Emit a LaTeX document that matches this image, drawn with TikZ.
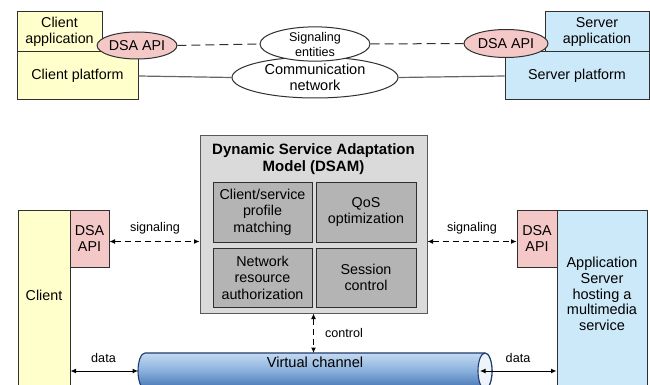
\documentclass[tikz,border=0pt]{standalone}
\usepackage{fontspec}
\setmainfont{Liberation Sans}
\usetikzlibrary{arrows.meta,shapes.geometric}
\definecolor{cyel}{HTML}{FFFFCC}
\definecolor{cpink}{HTML}{F5C8C8}
\definecolor{cblue}{HTML}{CCE9FA}
\definecolor{cgrey}{HTML}{DADADA}
\definecolor{cdgrey}{HTML}{B4B4B4}
\definecolor{cline}{HTML}{303030}
\definecolor{tubetop}{HTML}{C4DAF0}
\definecolor{tubemid}{HTML}{88B0DC}
\definecolor{tubebot}{HTML}{4473B4}
\definecolor{tubeedge}{HTML}{1F3A6E}
\newcommand{\bigtxt}{\fontsize{14.3}{15.5}\selectfont}
\newcommand{\midtxt}{\fontsize{14.3}{16.5}\selectfont}
\newcommand{\smalltxt}{\fontsize{12.6}{15}\selectfont}
\begin{document}
\begin{tikzpicture}[x=1pt,y=-1pt,
  box/.style={draw=cline, line width=1pt, align=center, inner sep=0pt, font=\bigtxt},
  oval/.style={draw=cline, line width=1pt, ellipse, align=center, inner sep=0pt},
  lbl/.style={inner sep=0pt, font=\smalltxt},
  sigarrow/.style={dashed, dash pattern=on 6pt off 4pt, line width=1pt, {Latex[length=5.5pt,width=5pt]}-{Latex[length=5.5pt,width=5pt]}},
  dataarrow/.style={line width=1pt, {Latex[length=5.5pt,width=5pt]}-{Latex[length=5.5pt,width=5pt]}}
]
\useasboundingbox (0,0) rectangle (650,385);
\clip (0,0) rectangle (650,385);
\fill[white] (0,0) rectangle (650,385);

% ---------- top part ----------
\node[box, fill=cyel, minimum width=121pt, minimum height=48pt] (cp) at (77.5,76) {Client platform};
\node[box, fill=cyel, minimum width=85pt, minimum height=40pt] (ca) at (59.5,32) {Client\\application};
\node[box, fill=cblue, minimum width=144pt, minimum height=48pt] (sp) at (577,76) {Server platform};
\node[box, fill=cblue, minimum width=104pt, minimum height=40pt] (sa) at (597,32) {Server\\application};

\node[oval, fill=white, minimum width=166pt, minimum height=41pt, font=\fontsize{14.5}{16.5}\selectfont] (comm) at (315,77.5) {Communication\\network};
\node[oval, fill=white, minimum width=110pt, minimum height=32pt, font=\smalltxt] (sig) at (315,44) {Signaling\\entities};
\node[oval, fill=cpink, minimum width=76pt, minimum height=27pt, font=\bigtxt] (dsa1) at (137,45.5) {DSA API};
\node[oval, fill=cpink, minimum width=84pt, minimum height=28pt, font=\bigtxt] (dsa2) at (506,43.5) {DSA API};

\draw[cline, line width=1pt, dash pattern=on 9pt off 5pt] (dsa1.east) -- (sig.west);
\draw[cline, line width=1pt, dash pattern=on 9pt off 5pt] (sig.east) -- (dsa2.west);
\draw[black!60, line width=1.2pt] (cp.east) -- (comm.west);
\draw[black!60, line width=1.2pt] (comm.east) -- (sp.west);

% ---------- bottom part ----------
\node[box, fill=cgrey, draw=black!65, minimum width=227pt, minimum height=178pt] (dsam) at (313.5,224) {};
\node[inner sep=0pt, align=center, font=\fontsize{15}{17}\selectfont\bfseries] (title) at (313.5,159) {Dynamic Service Adaptation\\Model (DSAM)};
\node[box, fill=cdgrey, font=\midtxt, minimum width=99pt, minimum height=60pt] (csp) at (262.5,212) {Client/service\\profile\\matching};
\node[box, fill=cdgrey, font=\midtxt, minimum width=100pt, minimum height=60pt] (qos) at (366,212) {QoS\\optimization};
\node[box, fill=cdgrey, font=\midtxt, minimum width=99pt, minimum height=59pt] (nra) at (262.5,277.5) {Network\\resource\\authorization};
\node[box, fill=cdgrey, font=\midtxt, minimum width=100pt, minimum height=59pt] (sc) at (366,277.5) {Session\\control};

\node[box, fill=cyel, minimum width=52pt, minimum height=190pt] (client) at (44,305) {};
\node[inner sep=0pt, font=\bigtxt] (clienttxt) at (44,295) {Client};
\node[box, fill=cpink, font=\midtxt, minimum width=39pt, minimum height=57pt] (api1) at (89.5,238.5) {DSA\\API};

\node[box, fill=cblue, minimum width=90pt, minimum height=190pt] (app) at (602,305) {};
\node[inner sep=0pt, align=center, font=\fontsize{14.5}{15.8}\selectfont] (apptxt) at (602,294) {Application\\Server\\hosting a\\multimedia\\service};
\node[box, fill=cpink, font=\midtxt, minimum width=40pt, minimum height=57pt] (api2) at (537,238.5) {DSA\\API};

% virtual channel (cylinder)
\path[top color=tubetop, bottom color=tubebot, middle color=tubemid, draw=tubeedge, line width=1.1pt]
  (145,353) -- (485,353) arc[start angle=-90, end angle=90, x radius=7, y radius=18]
  -- (145,389) arc[start angle=90, end angle=270, x radius=7, y radius=18] -- cycle;
\path[fill=white!70!tubetop, draw=tubeedge, line width=1.1pt] (485,371) ellipse[x radius=7, y radius=18];
\node[inner sep=0pt, font=\fontsize{14.6}{16}\selectfont] (vc) at (315,362) {Virtual channel};
\coordinate (vtop) at (313.5,353);
\coordinate (vleft) at (138,371);
\coordinate (vright) at (480,371);

% connectors
\draw[sigarrow] ([yshift=-3pt]api1.east) -- ([yshift=-3pt]api1.east -| dsam.west);
\draw[sigarrow] ([yshift=-3pt]dsam.east |- api2.west) -- ([yshift=-3pt]api2.west);
\draw[sigarrow] (dsam.south) -- (vtop);
\draw[dataarrow] (vleft -| client.east) -- (vleft);
\draw[dataarrow] (vright) -- (vright -| app.west);

\node[lbl] (siglbl1) at (155,228) {signaling};
\node[lbl] (siglbl2) at (472,228) {signaling};
\node[lbl] (ctrllbl) at (344,333) {control};
\node[lbl] (datalbl1) at (103.5,358) {data};
\node[lbl] (datalbl2) at (518,358) {data};
\end{tikzpicture}
\end{document}
